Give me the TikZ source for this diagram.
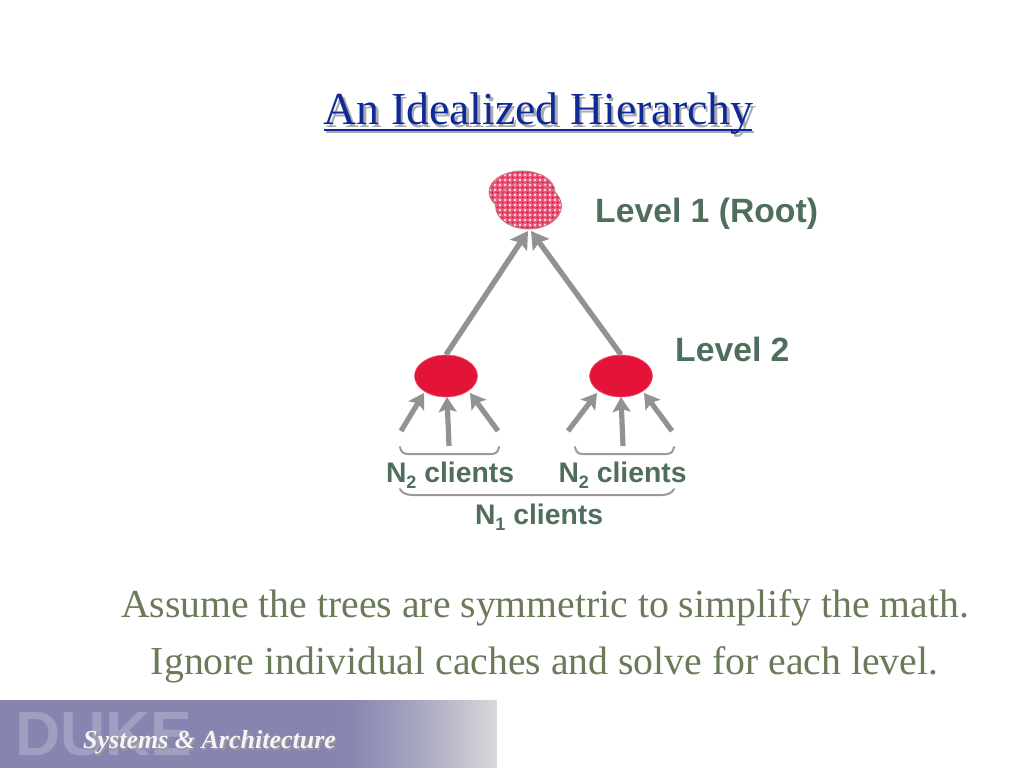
\documentclass[tikz,border=0pt]{standalone}
\usepackage{fontspec}
\setmainfont{Liberation Serif}
\setsansfont{Liberation Sans}
\usetikzlibrary{arrows.meta,shapes.geometric}
\definecolor{titleblue}{HTML}{0F2A96}
\definecolor{titleshadow}{HTML}{A9A9B4}
\definecolor{labelgreen}{HTML}{4F6F5C}
\definecolor{bodygreen}{HTML}{6B7B5A}
\definecolor{nodered}{HTML}{E31438}
\definecolor{arrowgray}{HTML}{929292}
\definecolor{bracegray}{HTML}{9A9A9A}
\definecolor{bandblue}{HTML}{8785B0}
\definecolor{bandend}{HTML}{D9D9D9}
\definecolor{dukecol}{HTML}{A09FC2}
\definecolor{rootpink}{HTML}{EE5878}
\definecolor{rootdark}{HTML}{C8103A}
\tikzset{
  x=1pt,y=-1pt,
  levelnode/.style={ellipse,fill=nodered,draw=nodered!70!white,line width=.6pt,minimum width=63pt,minimum height=42pt,inner sep=0pt},
  rootblob/.style={ellipse,draw=arrowgray!55!rootpink,line width=.8pt,inner sep=0pt},
  flow/.style={draw=arrowgray,line width=5.4pt,-{Stealth[length=17pt,width=20pt,inset=3pt]}},
  subflow/.style={draw=arrowgray,line width=5.2pt,-{Stealth[length=15pt,width=18pt,inset=3pt]}},
  bracket/.style={draw=bracegray,line width=2pt,line cap=round},
  lab/.style={font=\sffamily\bfseries\fontsize{33.7}{33.7}\selectfont,text=labelgreen,inner sep=0pt,anchor=base},
  sublab/.style={font=\sffamily\bfseries\fontsize{28.3}{28.3}\selectfont,text=labelgreen,inner sep=0pt,anchor=base},
  body/.style={font=\fontsize{39.7}{39.7}\selectfont,text=bodygreen,inner sep=0pt,anchor=base}
}
\newcommand{\dotfield}[4]{%
  \begin{scope}
    \clip (#1,#2) ellipse [x radius=#3,y radius=#4];
    \fill[rootpink] (#1-#3,#2-#4) rectangle (#1+#3,#2+#4);
    \foreach \i in {-9,...,9}{\foreach \j in {-8,...,8}{
      \fill[white] (525+\i*5,200+\j*5) circle[radius=1.1];
      \fill[rootdark] (525+\i*5+2.5,200+\j*5+2.5) circle[radius=1];
    }}
  \end{scope}
}
\begin{document}
\begin{tikzpicture}
\useasboundingbox (0,0) rectangle (1024,768);
\fill[white] (0,0) rectangle (1024,768);
% footer band
\fill[bandblue] (0,700) rectangle (497,768);
\foreach \k in {0,...,156}{
  \pgfmathsetmacro{\mixval}{100*(\k/156)^1.3}
  \fill[bandend!\mixval!bandblue] (340+\k,700) rectangle (497,768);
}
\node[font=\sffamily\bfseries\fontsize{62.5}{62.5}\selectfont,text=dukecol,inner sep=0pt,anchor=base west] (duke) at (15,755) {DUKE};
\node[font=\bfseries\itshape\fontsize{26}{26}\selectfont,text=black!40,inner sep=0pt,anchor=base west] (brandshadow) at (84.5,750) {Systems \& Architecture};
\node[font=\bfseries\itshape\fontsize{26}{26}\selectfont,text=white!92!bandblue,inner sep=0pt,anchor=base west] (brand) at (83,748.5) {Systems \& Architecture};
% title
\node[font=\fontsize{45.8}{45.8}\selectfont,text=titleshadow,inner sep=0pt,anchor=base] (titleshade) at (541,127) {An Idealized Hierarchy};
\fill[titleshadow] (326,131) rectangle (754,133);
\node[font=\fontsize{45.8}{45.8}\selectfont,text=titleblue,inner sep=0pt,anchor=base] (title) at (538.5,124.5) {An Idealized Hierarchy};
\fill[titleblue] (324,128.5) rectangle (752,130.5);
% root
\dotfield{522}{192}{33}{21}
\node[rootblob,minimum width=66pt,minimum height=42pt] (rootback) at (522,192) {};
\dotfield{528.5}{206}{33}{23}
\node[rootblob,minimum width=66pt,minimum height=46pt] (root) at (528.5,206) {};
% level 2
\node[levelnode] (left) at (446,376) {};
\node[levelnode] (right) at (621,376) {};
% free ends
\coordinate (l1) at (401,431); \coordinate (l2) at (449,446); \coordinate (l3) at (498,431);
\coordinate (r1) at (568,431); \coordinate (r2) at (623,446); \coordinate (r3) at (672,431);
\coordinate (lt1) at (424,393); \coordinate (lt2) at (447,397); \coordinate (lt3) at (470,393);
\coordinate (rt1) at (597,393); \coordinate (rt2) at (621,397); \coordinate (rt3) at (644,393);
\coordinate (rootl) at (528,231); \coordinate (rootr) at (531,231);
\draw[flow] (left.north) -- (rootl);
\draw[flow] (right.north) -- (rootr);
\foreach \a/\b in {l1/lt1,l2/lt2,l3/lt3,r1/rt1,r2/rt2,r3/rt3}{
  \draw[subflow] (\a) -- (\b);
}
% braces
\draw[bracket] (400,447) .. controls (401,452) and (403,454) .. (408,454) -- (491,454) .. controls (496,454) and (498,452) .. (499,447);
\draw[bracket] (575,447) .. controls (576,452) and (578,454) .. (583,454) -- (666,454) .. controls (671,454) and (673,452) .. (674,447);
\draw[bracket] (400,489) .. controls (402,493) and (406,495) .. (413,495) -- (661,495) .. controls (668,495) and (672,493) .. (674,489);
% labels
\node[lab,anchor=base west] (lev1) at (595,222) {Level 1 (Root)};
\node[lab,anchor=base west] (lev2) at (675,361) {Level 2};
\node[sublab] (n2a) at (450,482) {N\raisebox{-6pt}{\fontsize{18}{18}\selectfont 2} clients};
\node[sublab] (n2b) at (622.5,482) {N\raisebox{-6pt}{\fontsize{18}{18}\selectfont 2} clients};
\node[sublab] (n1) at (539,524) {N\raisebox{-6pt}{\fontsize{18}{18}\selectfont 1} clients};
\node[body] (line1) at (545,617) {Assume the trees are symmetric to simplify the math.};
\node[body] (line2) at (544.5,674) {Ignore individual caches and solve for each level.};
\end{tikzpicture}
\end{document}
